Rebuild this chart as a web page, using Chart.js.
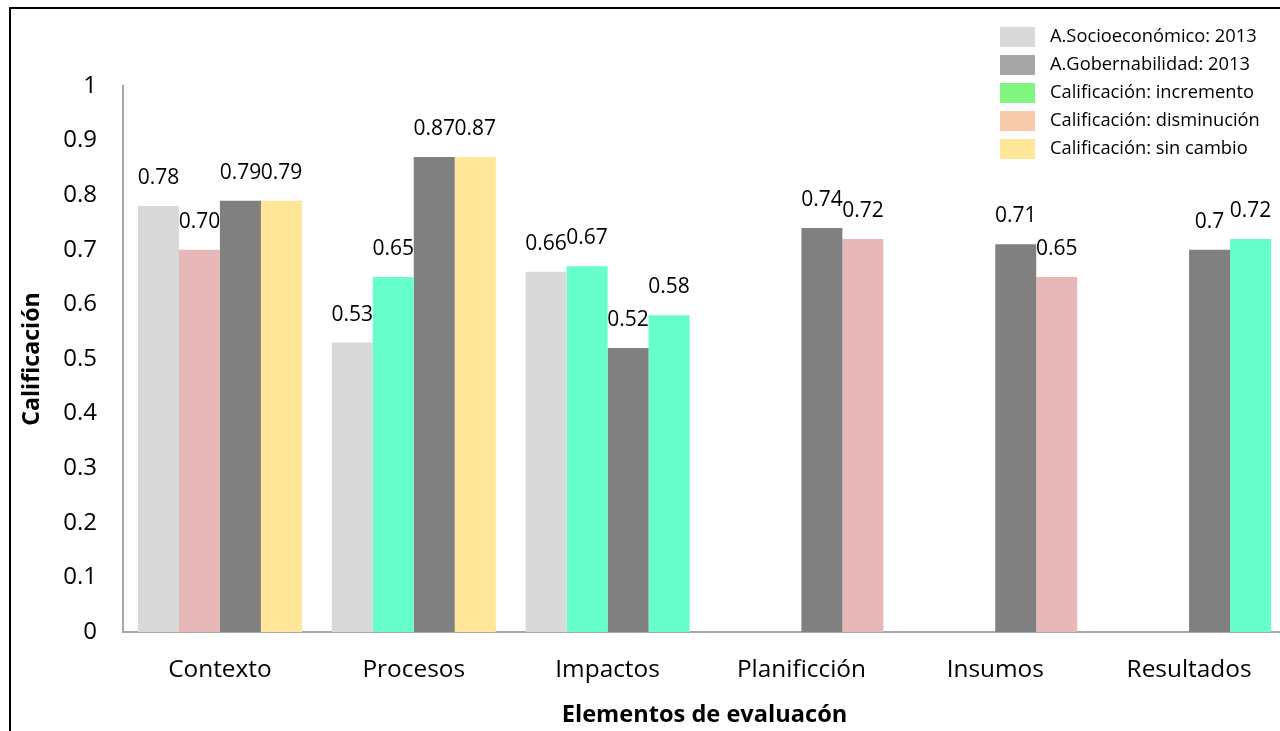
<!DOCTYPE html>
<html>
<head>
<meta charset="utf-8">
<script src="https://cdn.jsdelivr.net/npm/chart.js@4/dist/chart.umd.min.js"></script>
<style>
  html, body { margin: 0; padding: 0; background: #fff; overflow: hidden; }
  #frame { position: absolute; left: 9px; top: 7px; width: 1400px; height: 800px;
           border-left: 2px solid #000; border-top: 2px solid #000; }
  #wrap { position: absolute; left: 0; top: 0; width: 1300px; height: 731px; }
</style>
</head>
<body>
<div id="frame"></div>
<div id="wrap"><canvas id="myChart"></canvas></div>
<script>
const categories = ['Contexto', 'Procesos', 'Impactos', 'Planificción', 'Insumos', 'Resultados']

// calificaciones (texto tal cual se rotula sobre cada barra)
const socio2013 = ['0.78', '0.53', '0.66', null, null, null]
const socioActual = ['0.70', '0.65', '0.67', null, null, null]
const gob2013 = ['0.79', '0.87', '0.52', '0.74', '0.71', '0.7']
const gobActual = ['0.79', '0.87', '0.58', '0.72', '0.65', '0.72']

const yTicks = [0, 0.1, 0.2, 0.3, 0.4, 0.5, 0.6, 0.7, 0.8, 0.9, 1]

const legendLabels = [
  'A.Socioeconómico: 2013',
  'A.Gobernabilidad: 2013',
  'Calificación: incremento',
  'Calificación: disminución',
  'Calificación: sin cambio',
]
const legendColors = ['#d9d9d9', '#a6a6a6', '#80f580', '#f8cbad', '#ffe699']

const FONT = '"Open Sans", Lato, sans-serif'

function toNum(arr) {
  return arr.map(v => v === null ? null : Number(v))
}

// color de la barra actual segun el cambio respecto a 2013
function changeColors(base, now) {
  return now.map((v, i) => {
    if (v === null) return 'rgba(0,0,0,0)'
    const a = Number(base[i]), b = Number(v)
    if (b > a) return '#66ffcc'
    if (b < a) return '#e6b8b7'
    return '#ffe699'
  })
}

const data = {
  labels: categories,
  datasets: [
    { label: 'socio2013', data: toNum(socio2013), backgroundColor: '#d9d9d9', text: socio2013 },
    { label: 'socioActual', data: toNum(socioActual), backgroundColor: changeColors(socio2013, socioActual), text: socioActual },
    { label: 'gob2013', data: toNum(gob2013), backgroundColor: '#808080', text: gob2013 },
    { label: 'gobActual', data: toNum(gobActual), backgroundColor: changeColors(gob2013, gobActual), text: gobActual },
  ]
}

const valueLabels = {
  id: 'valueLabels',
  afterDatasetsDraw(chart) {
    const c = chart.ctx
    c.save()
    c.font = '21px ' + FONT
    c.fillStyle = '#000'
    c.textAlign = 'center'
    c.textBaseline = 'middle'
    chart.data.datasets.forEach((ds, di) => {
      chart.getDatasetMeta(di).data.forEach((bar, i) => {
        if (ds.text[i] === null) return
        c.fillText(ds.text[i], bar.x, bar.y - 28)
      })
    })
    c.restore()
  }
}

const boxLegend = {
  id: 'boxLegend',
  afterDraw(chart) {
    const c = chart.ctx
    c.save()
    c.font = '18.3px ' + FONT
    c.textBaseline = 'middle'
    legendLabels.forEach((t, i) => {
      const y = 27 + i * 28
      c.fillStyle = legendColors[i]
      c.fillRect(1000, y, 35, 20)
      c.fillStyle = '#000'
      c.fillText(t, 1050, y + 10)
    })
    c.restore()
  }
}

const config = {
  type: 'bar',
  data: data,
  options: {
    responsive: true,
    maintainAspectRatio: false,
    animation: false,
    layout: { padding: { top: 86, right: 14, left: 0, bottom: 0 } },
    datasets: { bar: { categoryPercentage: 0.846, barPercentage: 1 } },
    plugins: {
      legend: { display: false },
      tooltip: { enabled: false }
    },
    scales: {
      x: {
        grid: { display: false },
        border: { display: true, color: '#a6a6a6', width: 2 },
        ticks: { color: '#000', font: { family: FONT, size: 24.4 }, padding: 15 },
        title: { display: true, text: 'Elementos de evaluacón', color: '#000',
                 font: { family: FONT, size: 23.6, weight: 'bold' }, padding: { top: 0, bottom: 2 } },
        afterFit(scale) { scale.height = 99 }
      },
      y: {
        min: 0, max: 1,
        afterBuildTicks(scale) { scale.ticks = yTicks.map(v => ({ value: v })) },
        grid: { display: false, drawTicks: false },
        border: { display: true, color: '#a6a6a6', width: 2 },
        ticks: { color: '#000', font: { family: FONT, size: 24 }, padding: 26,
                 callback: v => String(Math.round(v * 10) / 10) },
        title: { display: true, text: 'Calificación', color: '#000',
                 font: { family: FONT, size: 23.2, weight: 'bold' }, padding: { top: 18, bottom: 0 } },
        afterFit(scale) { scale.width = 123 }
      }
    }
  },
  plugins: [valueLabels, boxLegend]
}

const myChart = new Chart(document.getElementById('myChart'), config)
</script>
</body>
</html>
